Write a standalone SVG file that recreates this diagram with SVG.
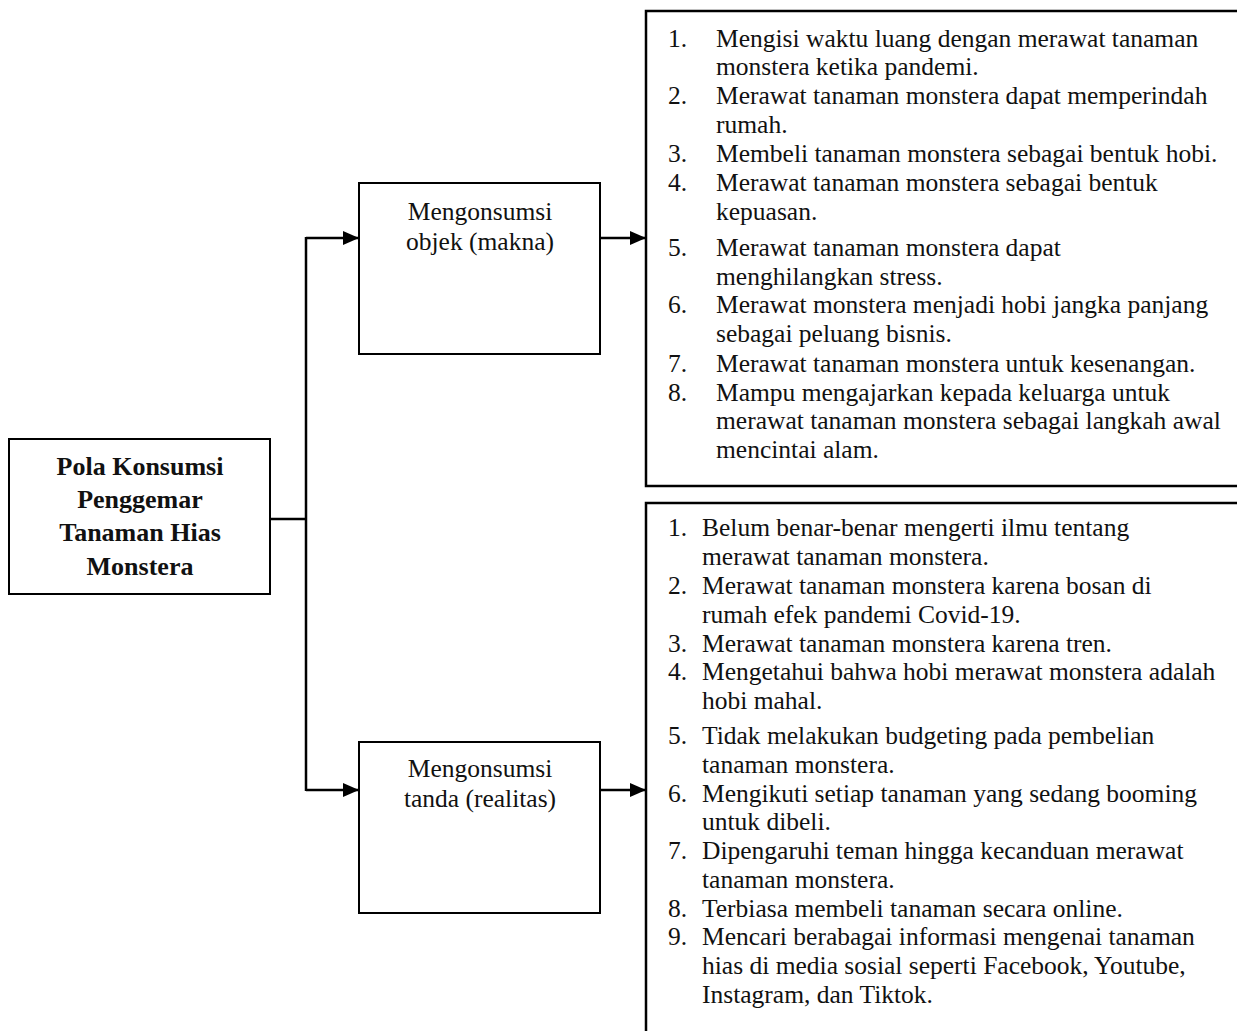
<svg xmlns="http://www.w3.org/2000/svg" width="1237" height="1031" viewBox="0 0 1237 1031">
<style>
.box{fill:#fff;stroke:#000;stroke-width:2}
.panel{fill:#fff;stroke:#000;stroke-width:2.5}
.t{font-family:"Liberation Serif","Times New Roman",serif;font-size:25.5px;fill:#111}
.c{text-anchor:middle}
.b{font-weight:bold;font-size:26px}
.conn{fill:none;stroke:#000;stroke-width:2.5}
</style>
<defs>
<marker id="ah" markerUnits="userSpaceOnUse" markerWidth="16" markerHeight="14" refX="16" refY="7" orient="auto">
<path d="M0,0 L16,7 L0,14 z" fill="#000"/>
</marker>
</defs>
<g id="connectors">
<path class="conn" d="M270,519 H306"/>
<path class="conn" d="M306,237 V791"/>
<path class="conn" d="M306,238 H359" marker-end="url(#ah)"/>
<path class="conn" d="M306,790 H359" marker-end="url(#ah)"/>
<path class="conn" d="M600,238 H646" marker-end="url(#ah)"/>
<path class="conn" d="M600,790 H646" marker-end="url(#ah)"/>
</g>
<g id="main">
<rect class="box" x="9" y="439" width="261" height="155"/>
<text class="t c b" x="140" y="475">Pola Konsumsi</text>
<text class="t c b" x="140" y="508">Penggemar</text>
<text class="t c b" x="140" y="541">Tanaman Hias</text>
<text class="t c b" x="140" y="575">Monstera</text>
</g>
<g id="makna">
<rect class="box" x="359" y="183" width="241" height="171"/>
<text class="t c" x="480" y="220">Mengonsumsi</text>
<text class="t c" x="480" y="250">objek (makna)</text>
</g>
<g id="realitas">
<rect class="box" x="359" y="742" width="241" height="171"/>
<text class="t c" x="480" y="777">Mengonsumsi</text>
<text class="t c" x="480" y="807">tanda (realitas)</text>
</g>
<g id="list-makna">
<rect class="panel" x="646" y="11" width="620" height="475"/>
<g class="t">
<text x="668" y="47">1.</text><text x="716" y="47">Mengisi waktu luang dengan merawat tanaman</text>
<text x="716" y="75">monstera ketika pandemi.</text>
<text x="668" y="104">2.</text><text x="716" y="104">Merawat tanaman monstera dapat memperindah</text>
<text x="716" y="133">rumah.</text>
<text x="668" y="162">3.</text><text x="716" y="162">Membeli tanaman monstera sebagai bentuk hobi.</text>
<text x="668" y="191">4.</text><text x="716" y="191">Merawat tanaman monstera sebagai bentuk</text>
<text x="716" y="220">kepuasan.</text>
<text x="668" y="256">5.</text><text x="716" y="256">Merawat tanaman monstera dapat</text>
<text x="716" y="285">menghilangkan stress.</text>
<text x="668" y="313">6.</text><text x="716" y="313">Merawat monstera menjadi hobi jangka panjang</text>
<text x="716" y="342">sebagai peluang bisnis.</text>
<text x="668" y="372">7.</text><text x="716" y="372">Merawat tanaman monstera untuk kesenangan.</text>
<text x="668" y="401">8.</text><text x="716" y="401">Mampu mengajarkan kepada keluarga untuk</text>
<text x="716" y="429">merawat tanaman monstera sebagai langkah awal</text>
<text x="716" y="458">mencintai alam.</text>
</g>
</g>
<g id="list-realitas">
<rect class="panel" x="646" y="503" width="620" height="560"/>
<g class="t">
<text x="668" y="536">1.</text><text x="702" y="536">Belum benar-benar mengerti ilmu tentang</text>
<text x="702" y="565">merawat tanaman monstera.</text>
<text x="668" y="594">2.</text><text x="702" y="594">Merawat tanaman monstera karena bosan di</text>
<text x="702" y="623">rumah efek pandemi Covid-19.</text>
<text x="668" y="652">3.</text><text x="702" y="652">Merawat tanaman monstera karena tren.</text>
<text x="668" y="680">4.</text><text x="702" y="680">Mengetahui bahwa hobi merawat monstera adalah</text>
<text x="702" y="709">hobi mahal.</text>
<text x="668" y="744">5.</text><text x="702" y="744">Tidak melakukan budgeting pada pembelian</text>
<text x="702" y="773">tanaman monstera.</text>
<text x="668" y="802">6.</text><text x="702" y="802">Mengikuti setiap tanaman yang sedang booming</text>
<text x="702" y="830">untuk dibeli.</text>
<text x="668" y="859">7.</text><text x="702" y="859">Dipengaruhi teman hingga kecanduan merawat</text>
<text x="702" y="888">tanaman monstera.</text>
<text x="668" y="917">8.</text><text x="702" y="917">Terbiasa membeli tanaman secara online.</text>
<text x="668" y="945">9.</text><text x="702" y="945">Mencari berabagai informasi mengenai tanaman</text>
<text x="702" y="974">hias di media sosial seperti Facebook, Youtube,</text>
<text x="702" y="1003">Instagram, dan Tiktok.</text>
</g>
</g>
</svg>
